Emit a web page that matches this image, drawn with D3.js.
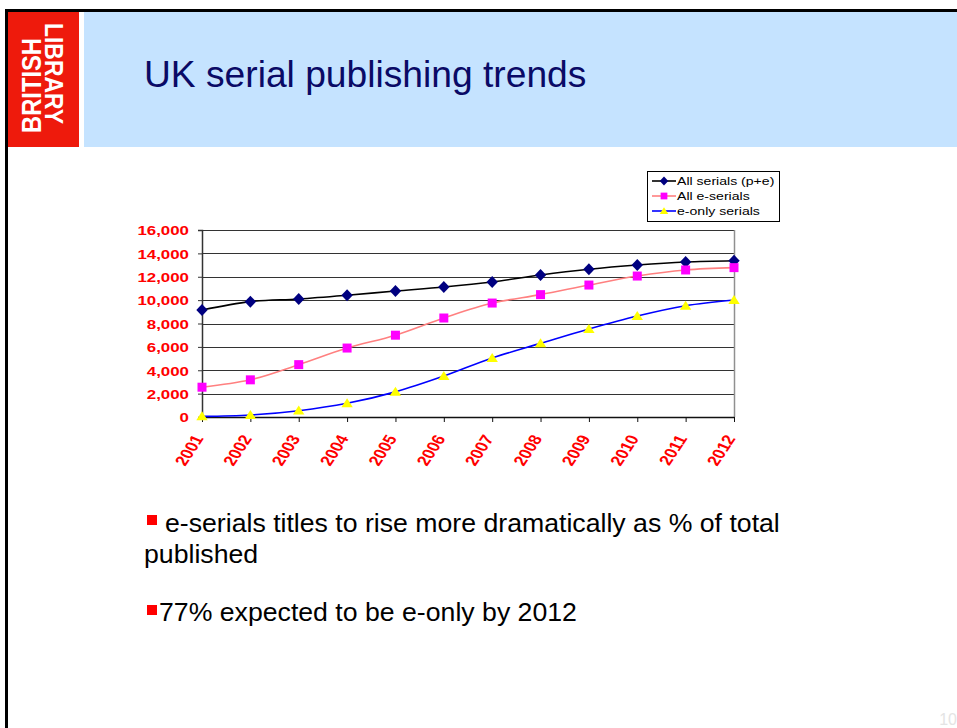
<!DOCTYPE html>
<html>
<head>
<meta charset="utf-8">
<script src="https://cdn.jsdelivr.net/npm/d3@7"></script>
<style>
  html, body { margin: 0; padding: 0; background: #fff; }
  svg { display: block; font-family: Arial, "Liberation Sans", sans-serif; }
</style>
</head>
<body>
<svg id="slide" width="957" height="728"></svg>
<script>
// ---- data ----
const years = ["2001","2002","2003","2004","2005","2006","2007","2008","2009","2010","2011","2012"];
const allSerials = [9150, 9870, 10100, 10420, 10780, 11120, 11550, 12150, 12640, 13000, 13260, 13370];
const allESerials = [2550, 3180, 4480, 5900, 7000, 8470, 9750, 10470, 11290, 12060, 12580, 12780];
const eOnlySerials = [50, 170, 540, 1170, 2150, 3500, 5050, 6300, 7530, 8640, 9520, 10010];
const seriesNames = ["All serials (p+e)", "All e-serials", "e-only serials"];
const yTickValues = [0, 2000, 4000, 6000, 8000, 10000, 12000, 14000, 16000];
const titleText = "UK serial publishing trends";
const bullets = ["e-serials titles to rise more dramatically as % of total", "published", "77% expected to be e-only by 2012"];

const svg = d3.select("#slide");

// ---- slide frame ----
svg.append("rect").attr("x", 84).attr("y", 12).attr("width", 873).attr("height", 135).attr("fill", "#c5e3ff");
svg.append("rect").attr("x", 8).attr("y", 12).attr("width", 71).attr("height", 135).attr("fill", "#ee1a0c");
svg.append("rect").attr("x", 5).attr("y", 9).attr("width", 952).attr("height", 3).attr("fill", "#000");
svg.append("rect").attr("x", 5).attr("y", 9).attr("width", 3).attr("height", 719).attr("fill", "#000");

// logo
svg.append("text").text("BRITISH")
  .attr("transform", "translate(41,133) rotate(-90)")
  .attr("font-size", 27).attr("font-weight", "bold").attr("fill", "#fff")
  .attr("textLength", 95).attr("lengthAdjust", "spacingAndGlyphs");
svg.append("text").text("LIBRARY")
  .attr("transform", "translate(45,23) rotate(90)")
  .attr("font-size", 25).attr("font-weight", "bold").attr("fill", "#fff")
  .attr("textLength", 101).attr("lengthAdjust", "spacingAndGlyphs");

// title
svg.append("text").text(titleText)
  .attr("x", 144).attr("y", 87).attr("font-size", 37.2).attr("fill", "#0a0a66");

// ---- chart ----
const x = d3.scalePoint().domain(years).range([202, 734]);
const y = d3.scaleLinear().domain([0, 16000]).range([417, 230]);
const SX = 1.25; // horizontal stretch of chart texts

const g = svg.append("g");

// gridlines
g.selectAll("line.grid").data(yTickValues.filter(d => d > 0)).join("line")
  .attr("x1", 202).attr("x2", 734)
  .attr("y1", d => Math.round(y(d)) + 0.5).attr("y2", d => Math.round(y(d)) + 0.5)
  .attr("stroke", "#333").attr("stroke-width", 1);
// right border
g.append("line").attr("x1", 734.5).attr("x2", 734.5).attr("y1", y(16000)).attr("y2", y(0))
  .attr("stroke", "#909090").attr("stroke-width", 1.5);

// y axis
const yAxis = d3.axisLeft(y).tickValues(yTickValues).tickSize(4).tickFormat(d3.format(","));
const ya = g.append("g").attr("transform", "translate(202,0)").call(yAxis);
ya.select(".domain").attr("stroke", "#333").attr("stroke-width", 1.5);
ya.selectAll(".tick line").attr("stroke", "#333");
ya.selectAll(".tick text").remove();
ya.selectAll(".tick").append("text")
  .attr("transform", `translate(-13,0) scale(${SX},1)`)
  .attr("dy", "0.36em").attr("text-anchor", "end")
  .attr("font-size", 13.5).attr("font-weight", "bold").attr("fill", "#ff0000")
  .attr("font-family", "Arial, 'Liberation Sans', sans-serif")
  .text(d => d3.format(",")(d));

// x axis
const xAxis = d3.axisBottom(x).tickSize(5).tickSizeOuter(0);
const xa = g.append("g").attr("transform", "translate(0,417)").call(xAxis);
xa.select(".domain").attr("stroke", "#111").attr("stroke-width", 1.5);
xa.selectAll(".tick line").attr("stroke", "#111");
xa.selectAll(".tick text").remove();
xa.selectAll(".tick").append("text")
  .attr("transform", `translate(-4,19) scale(${SX},1) rotate(-62)`)
  .attr("dy", "0.35em").attr("text-anchor", "end")
  .attr("font-size", 14.5).attr("font-weight", "bold").attr("fill", "#ff0000")
  .attr("font-family", "Arial, 'Liberation Sans', sans-serif")
  .text(d => d);

// lines
const line = d3.line().x((d, i) => x(years[i])).y(d => y(d)).curve(d3.curveCatmullRom.alpha(0.5));
const series = [
  { name: seriesNames[0], values: allSerials, stroke: "#000", width: 1.6, marker: "diamond", fill: "#000080" },
  { name: seriesNames[1], values: allESerials, stroke: "#ff8080", width: 1.6, marker: "square", fill: "#ff00ff" },
  { name: seriesNames[2], values: eOnlySerials, stroke: "#0000ff", width: 1.6, marker: "triangle", fill: "#ffff00" }
];
function markerPath(type, s) {
  if (type === "diamond") return `M0,${-s}L${s * 0.95},0L0,${s}L${-s * 0.95},0Z`;
  if (type === "square") return `M${-s * 0.75},${-s * 0.75}h${s * 1.5}v${s * 1.5}h${-s * 1.5}Z`;
  return `M0,${-s * 0.85}L${s * 0.95},${s * 0.65}L${-s * 0.95},${s * 0.65}Z`;
}
series.forEach(s => {
  g.append("path").attr("d", line(s.values)).attr("fill", "none")
    .attr("stroke", s.stroke).attr("stroke-width", s.width);
});
series.forEach(s => {
  g.selectAll(null).data(s.values).join("path")
    .attr("transform", (d, i) => `translate(${x(years[i])},${y(d)})`)
    .attr("d", markerPath(s.marker, 6))
    .attr("fill", s.fill);
});

// legend
const lg = svg.append("g");
lg.append("rect").attr("x", 647.5).attr("y", 171.5).attr("width", 132).attr("height", 50)
  .attr("fill", "#fff").attr("stroke", "#000").attr("stroke-width", 1);
series.forEach((s, i) => {
  const cy = 181 + i * 15;
  lg.append("line").attr("x1", 652).attr("x2", 676).attr("y1", cy).attr("y2", cy)
    .attr("stroke", s.stroke).attr("stroke-width", 1.6);
  lg.append("path").attr("transform", `translate(664,${cy})`).attr("d", markerPath(s.marker, 4.5)).attr("fill", s.fill);
  lg.append("text").attr("transform", `translate(677,${cy}) scale(1.28,1)`)
    .attr("dy", "0.36em").attr("font-size", 11).attr("fill", "#000").text(s.name);
});

// ---- bullets ----
svg.append("rect").attr("x", 147).attr("y", 515).attr("width", 10).attr("height", 10).attr("fill", "#ff0000");
svg.append("text").attr("x", 165).attr("y", 532).attr("font-size", 26.67).attr("fill", "#000").text(bullets[0]);
svg.append("text").attr("x", 144).attr("y", 563).attr("font-size", 26.67).attr("fill", "#000").text(bullets[1]);
svg.append("rect").attr("x", 147).attr("y", 605).attr("width", 10).attr("height", 10).attr("fill", "#ff0000");
svg.append("text").attr("x", 159).attr("y", 621).attr("font-size", 26.67).attr("fill", "#000").text(bullets[2]);

// page number
svg.append("text").attr("x", 957).attr("y", 725).attr("text-anchor", "end")
  .attr("font-size", 16).attr("fill", "#e4e4e4").text("10");
</script>
</body>
</html>
